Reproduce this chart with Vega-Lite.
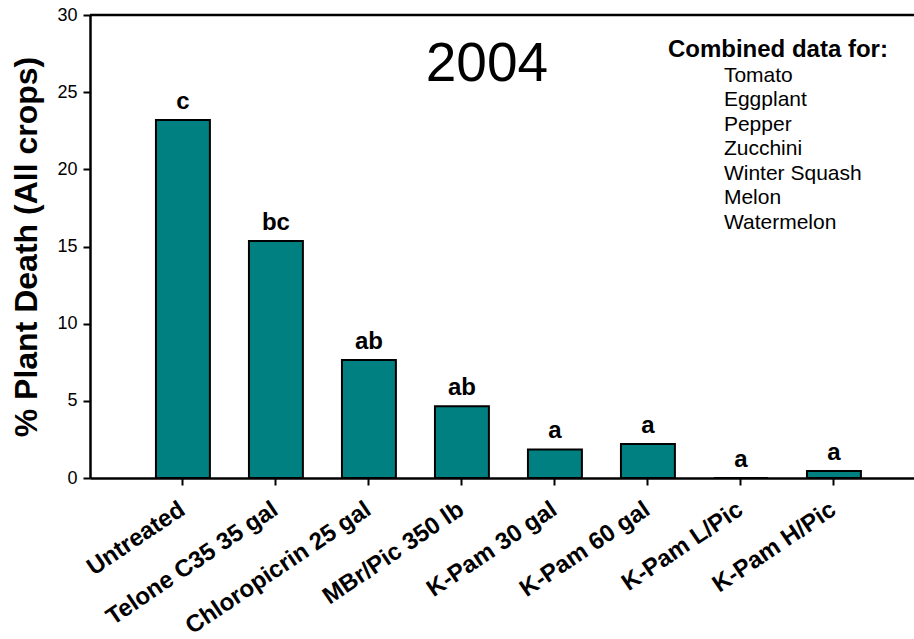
{
  "$schema": "https://vega.github.io/schema/vega-lite/v6.json",
  "width": 824,
  "height": 463,
  "autosize": {"type": "none"},
  "padding": {"left": 90, "top": 15, "right": 0, "bottom": 161},
  "background": "white",
  "config": {"view": {"stroke": null}, "font": "Liberation Sans"},
  "layer": [
    {
      "data": {
        "values": [
          {"treatment": "Untreated", "death": 23.2, "sig": "c"},
          {"treatment": "Telone C35 35 gal", "death": 15.35, "sig": "bc"},
          {"treatment": "Chloropicrin 25 gal", "death": 7.65, "sig": "ab"},
          {"treatment": "MBr/Pic 350 lb", "death": 4.65, "sig": "ab"},
          {"treatment": "K-Pam 30 gal", "death": 1.85, "sig": "a"},
          {"treatment": "K-Pam 60 gal", "death": 2.2, "sig": "a"},
          {"treatment": "K-Pam L/Pic", "death": 0, "sig": "a"},
          {"treatment": "K-Pam H/Pic", "death": 0.45, "sig": "a"}
        ]
      },
      "encoding": {
        "x": {
          "field": "treatment",
          "type": "nominal",
          "sort": null,
          "scale": {"paddingInner": 0.42, "paddingOuter": 0.64, "align": 0.554},
          "axis": {
            "title": null,
            "labelAngle": -34,
            "labelAlign": "right",
            "labelBaseline": "top",
            "labelFontSize": 24,
            "labelFontWeight": "bold",
            "labelColor": "black",
            "labelLimit": 0,
            "labelPadding": 12,
            "labelOffset": -7,
            "labelOverlap": false,
            "tickSize": 7,
            "tickWidth": 2,
            "tickColor": "black",
            "domainColor": "black",
            "domainWidth": 2.5
          }
        },
        "y": {
          "field": "death",
          "type": "quantitative",
          "scale": {"domain": [0, 30], "nice": false},
          "axis": {
            "title": "% Plant Death (All crops)",
            "titleFontSize": 32,
            "titleFontWeight": "bold",
            "titleColor": "black",
            "titlePadding": 13,
            "values": [0, 5, 10, 15, 20, 25, 30],
            "grid": false,
            "labelFontSize": 18,
            "labelColor": "black",
            "labelPadding": 6,
            "tickSize": 7,
            "tickWidth": 2,
            "tickColor": "black",
            "domainColor": "black",
            "domainWidth": 2.5
          }
        }
      },
      "layer": [
        {
          "mark": {"type": "bar", "color": "#008080", "stroke": "black", "strokeWidth": 2}
        },
        {
          "mark": {"type": "text", "fontSize": 24, "fontWeight": "bold", "baseline": "alphabetic", "dy": -11, "color": "black"},
          "encoding": {"text": {"field": "sig"}}
        }
      ]
    },
    {
      "data": {"values": [{"edge": "top"}]},
      "mark": {"type": "rule", "color": "black", "strokeWidth": 2.5},
      "encoding": {"y": {"datum": 30, "type": "quantitative"}}
    },
    {
      "data": {"values": [{"label": "2004"}]},
      "mark": {"type": "text", "fontSize": 55, "fontWeight": "normal", "baseline": "alphabetic", "align": "center", "dx": 25, "color": "black"},
      "encoding": {"x": {"datum": "MBr/Pic 350 lb", "type": "nominal"}, "y": {"datum": 25.72, "type": "quantitative"}, "text": {"field": "label"}}
    },
    {
      "data": {"values": [{"label": "Combined data for:"}]},
      "mark": {"type": "text", "fontSize": 24, "fontWeight": "bold", "baseline": "alphabetic", "align": "center", "dx": 37, "color": "black"},
      "encoding": {"x": {"datum": "K-Pam L/Pic", "type": "nominal"}, "y": {"datum": 27.28, "type": "quantitative"}, "text": {"field": "label"}}
    },
    {
      "data": {"values": [{"crops": ["Tomato", "Eggplant", "Pepper", "Zucchini", "Winter Squash", "Melon", "Watermelon"]}]},
      "mark": {"type": "text", "fontSize": 21, "fontWeight": "normal", "baseline": "alphabetic", "align": "left", "dx": -17, "lineHeight": 24.5, "color": "black"},
      "encoding": {"x": {"datum": "K-Pam L/Pic", "type": "nominal"}, "y": {"datum": 25.66, "type": "quantitative"}, "text": {"field": "crops"}}
    }
  ]
}
